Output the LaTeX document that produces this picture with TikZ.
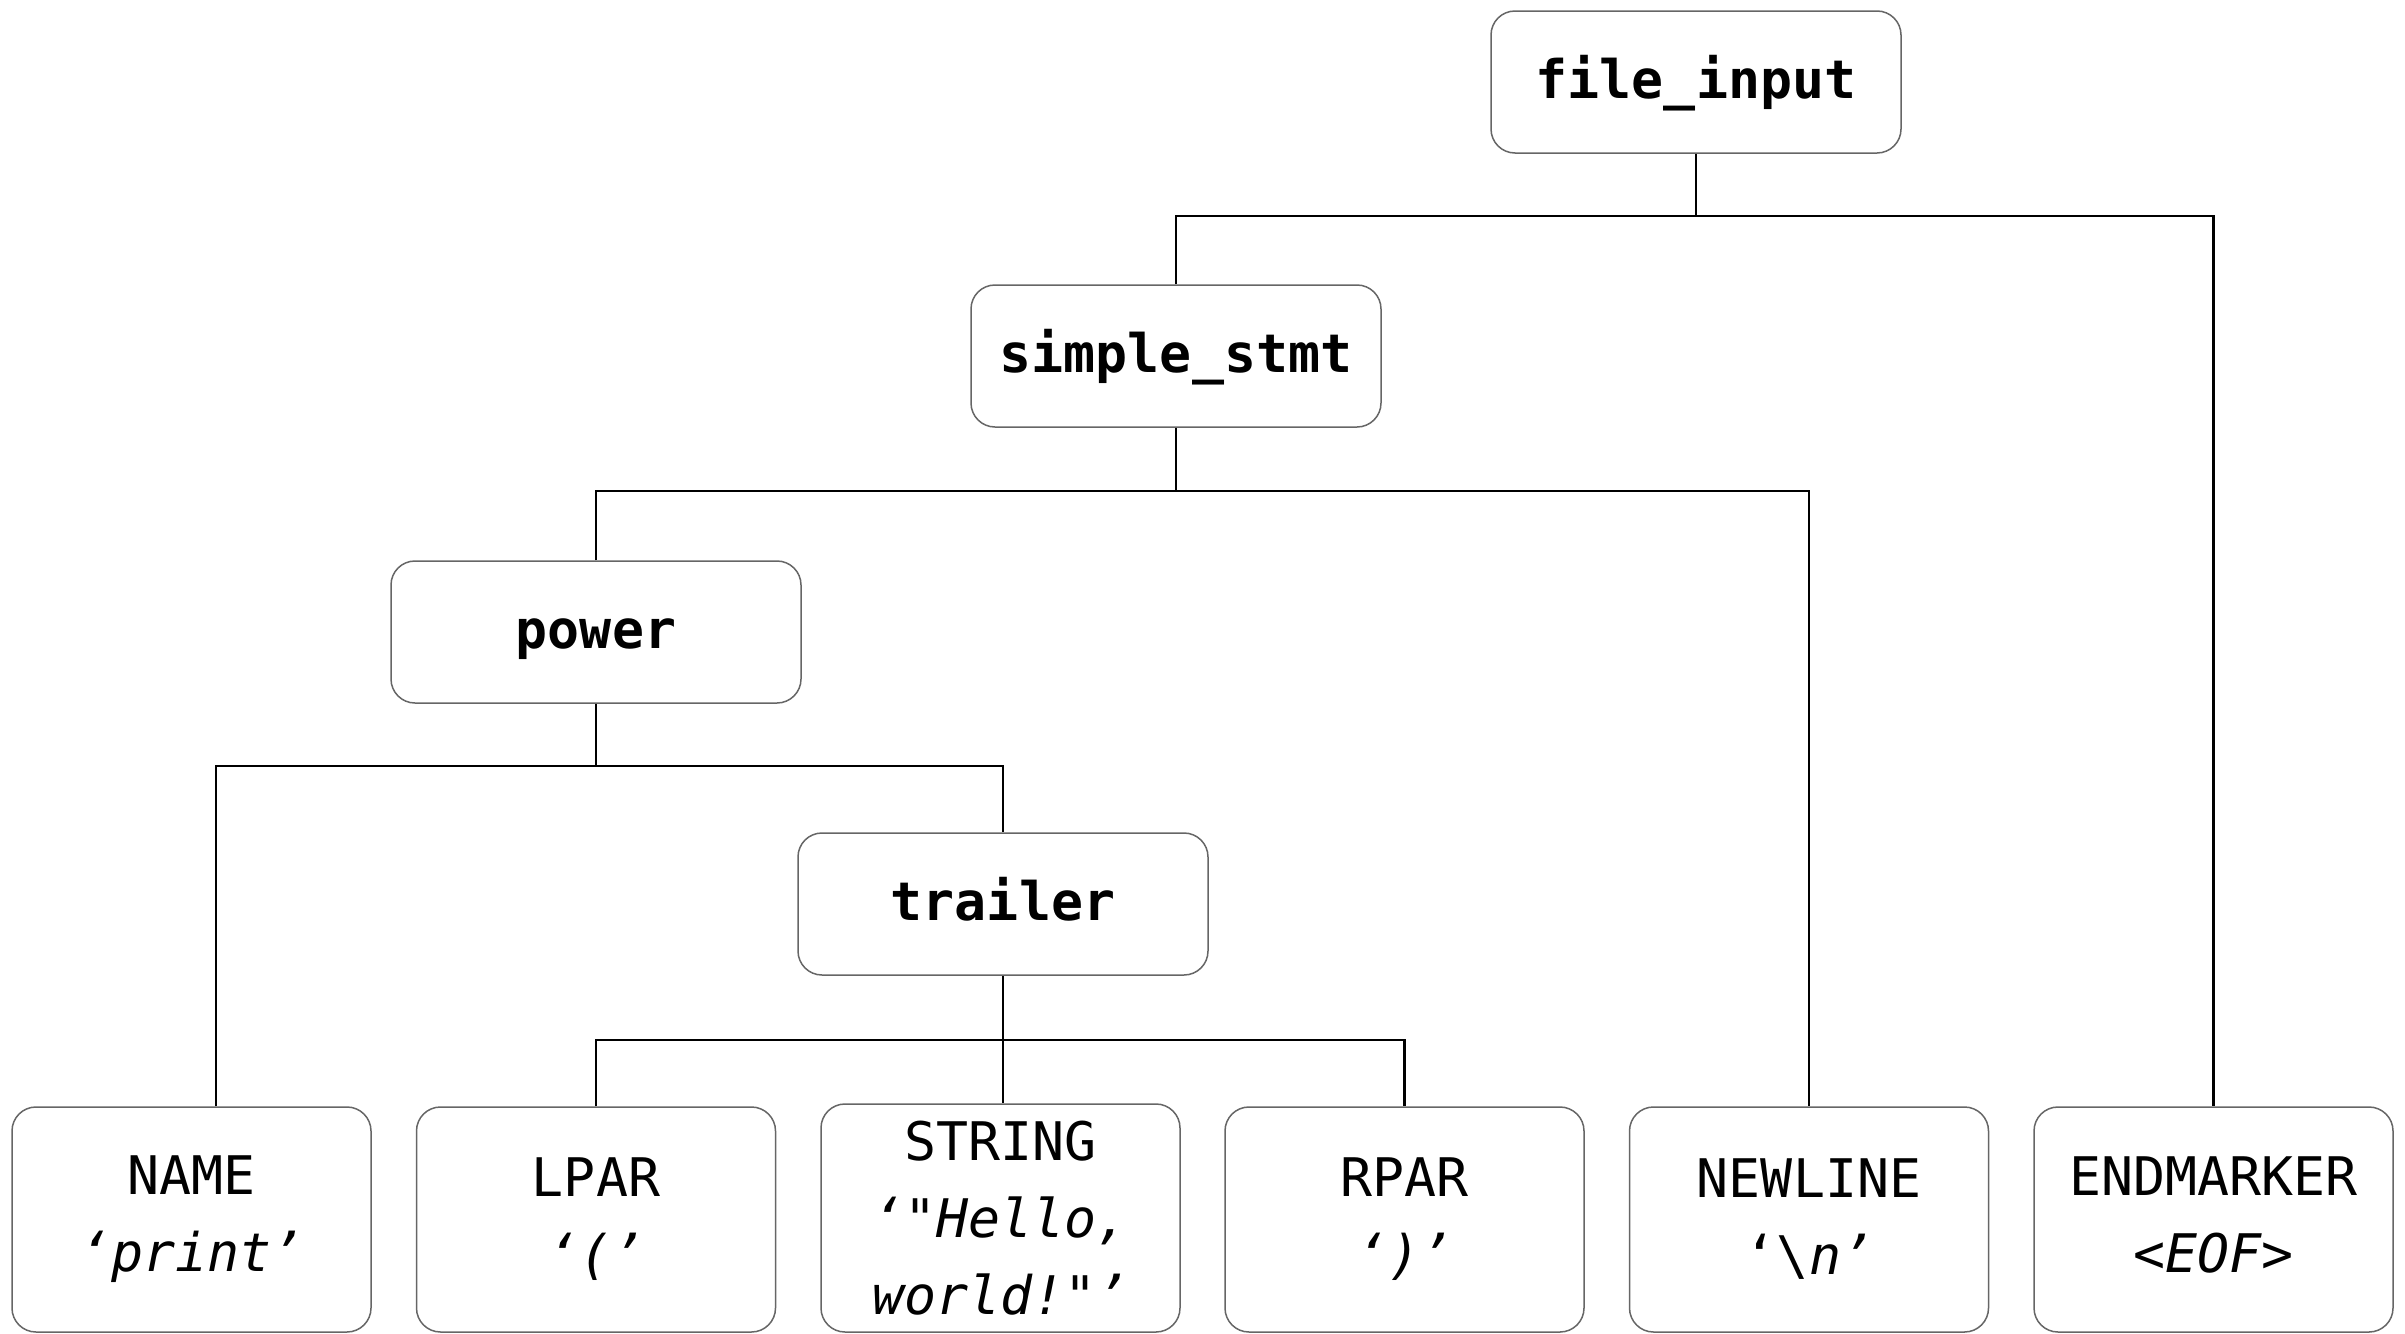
\documentclass[tikz,border=0pt]{standalone}
\usepackage{fontspec}
\setmonofont{DejaVu Sans Mono}
\begin{document}
\begin{tikzpicture}[x=1pt,y=-1pt,
  box/.style={draw=black!60, line width=1.5pt, rounded corners=24pt, fill=white, inner sep=0pt, align=center, font=\ttfamily\fontsize{53.2}{77}\selectfont},
  inner/.style={box, minimum width=410pt, minimum height=142pt, text height=40pt, text depth=8pt, font=\ttfamily\bfseries\fontsize{53.2}{77}\selectfont},
  leaf/.style={box, minimum width=359pt, minimum height=225pt},
  conn/.style={line width=2.5pt, black}]
\useasboundingbox (0,0) rectangle (2405,1333);

% inner nodes
\node[inner] (fi) at (1696,82) {file\_input};
\node[inner] (ss) at (1176,356) {simple\_stmt};
\node[inner] (pw) at (596,632) {power};
\node[inner] (tr) at (1003,904) {trailer};

% leaves
\node[leaf] (nm) at (191.5,1219.5) {NAME\\\textit{‘print’}};
\node[leaf] (lp) at (596,1219.5) {LPAR\\\textit{‘(’}};
\node[leaf, minimum height=228pt] (st) at (1000.5,1218) {STRING\\\textit{‘"Hello,}\\\textit{world!"’}};
\node[leaf] (rp) at (1404.5,1219.5) {RPAR\\\textit{‘)’}};
\node[leaf] (nl) at (1809,1219.5) {NEWLINE\\‘\textbackslash\textit{n’}};
\node[leaf] (em) at (2213.5,1219.5) {ENDMARKER\\<\textit{EOF}>\rule[-9pt]{0pt}{9pt}};

% bus levels
\coordinate (b1) at (0,216);
\coordinate (b2) at (0,491);
\coordinate (b3) at (0,766);
\coordinate (b4) at (0,1040);

% file_input
\draw[conn] (fi.south) -- (fi.south |- b1);
\draw[conn] (ss.north) |- (em.north |- b1) -- (em.north);

% simple_stmt
\draw[conn] (ss.south) -- (ss.south |- b2);
\draw[conn] (pw.north) |- (nl.north |- b2) -- (nl.north);

% power
\draw[conn] (pw.south) -- (pw.south |- b3);
\coordinate (nmt) at ([xshift=24.5pt]nm.north);
\draw[conn] (nmt) |- (tr.north |- b3) -- (tr.north);

% trailer
\draw[conn] (tr.south) -- (st.north -| tr.south);
\draw[conn] (lp.north) |- (rp.north |- b4) -- (rp.north);
\end{tikzpicture}
\end{document}
